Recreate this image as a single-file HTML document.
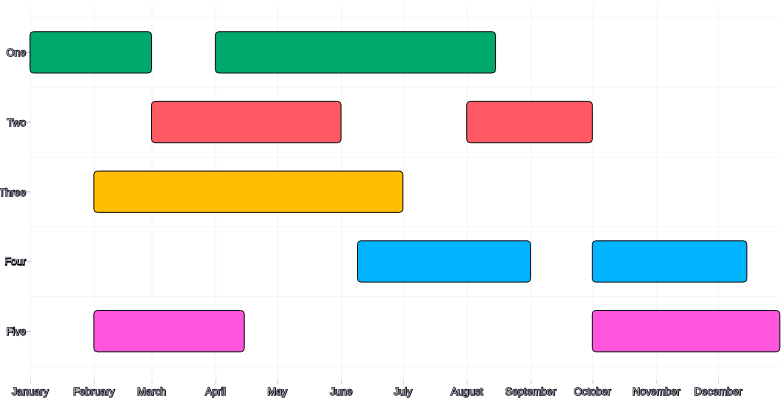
<!DOCTYPE html>
<html><head><meta charset="utf-8">
<style>
html,body{margin:0;padding:0;background:#fff;}
body{width:784px;height:400px;overflow:hidden;}
svg{display:block;will-change:transform;}
text{font-family:"Liberation Sans",Helvetica,Arial,sans-serif;font-size:10.4px;text-rendering:geometricPrecision;}
.f{fill:#a8acc0;stroke:none;}
.s{fill:#000004;stroke:#000004;stroke-width:1.25px;}
.g line{stroke:#f5f5f7;stroke-width:1;}
.g line.h{stroke:#f6f6f8;}
.t line{stroke:#d2d2dc;stroke-width:1;}
.ty line{stroke:#c6c6ce;stroke-width:1;}
.b rect{stroke:#101010;stroke-width:1;}
</style></head><body>
<svg width="784" height="400" viewBox="0 0 784 400">
<g class="g">
<line x1="30.50" y1="4" x2="30.50" y2="380"/>
<line x1="94.36" y1="4" x2="94.36" y2="380"/>
<line x1="152.03" y1="4" x2="152.03" y2="380"/>
<line x1="215.89" y1="4" x2="215.89" y2="380"/>
<line x1="277.69" y1="4" x2="277.69" y2="380"/>
<line x1="341.54" y1="4" x2="341.54" y2="380"/>
<line x1="403.34" y1="4" x2="403.34" y2="380"/>
<line x1="467.20" y1="4" x2="467.20" y2="380"/>
<line x1="531.06" y1="4" x2="531.06" y2="380"/>
<line x1="592.85" y1="4" x2="592.85" y2="380"/>
<line x1="656.71" y1="4" x2="656.71" y2="380"/>
<line x1="718.51" y1="4" x2="718.51" y2="380"/>
<line class="h" x1="30" y1="17.50" x2="780" y2="17.50"/>
<line class="h" x1="30" y1="87.26" x2="780" y2="87.26"/>
<line class="h" x1="30" y1="157.02" x2="780" y2="157.02"/>
<line class="h" x1="30" y1="226.78" x2="780" y2="226.78"/>
<line class="h" x1="30" y1="296.54" x2="780" y2="296.54"/>
<line class="h" x1="30" y1="366.30" x2="780" y2="366.30"/>
</g>
<g class="t">
<line x1="30.50" y1="380" x2="30.50" y2="383.6"/>
<line x1="94.36" y1="380" x2="94.36" y2="383.6"/>
<line x1="152.03" y1="380" x2="152.03" y2="383.6"/>
<line x1="215.89" y1="380" x2="215.89" y2="383.6"/>
<line x1="277.69" y1="380" x2="277.69" y2="383.6"/>
<line x1="341.54" y1="380" x2="341.54" y2="383.6"/>
<line x1="403.34" y1="380" x2="403.34" y2="383.6"/>
<line x1="467.20" y1="380" x2="467.20" y2="383.6"/>
<line x1="531.06" y1="380" x2="531.06" y2="383.6"/>
<line x1="592.85" y1="380" x2="592.85" y2="383.6"/>
<line x1="656.71" y1="380" x2="656.71" y2="383.6"/>
<line x1="718.51" y1="380" x2="718.51" y2="383.6"/>
</g>
<g class="ty">
<line x1="24.5" y1="52.38" x2="30.5" y2="52.38"/>
<line x1="24.5" y1="122.14" x2="30.5" y2="122.14"/>
<line x1="24.5" y1="191.90" x2="30.5" y2="191.90"/>
<line x1="24.5" y1="261.66" x2="30.5" y2="261.66"/>
<line x1="24.5" y1="331.42" x2="30.5" y2="331.42"/>
</g>
<g class="b">
<rect x="30.00" y="31.70" width="121.53" height="41.3" rx="3.5" fill="#00a86b"/>
<rect x="215.39" y="31.70" width="280.15" height="41.3" rx="3.5" fill="#00a86b"/>
<rect x="151.53" y="101.40" width="189.51" height="41.3" rx="3.5" fill="#ff5964"/>
<rect x="466.70" y="101.40" width="125.65" height="41.3" rx="3.5" fill="#ff5964"/>
<rect x="93.86" y="171.10" width="308.98" height="41.3" rx="3.5" fill="#ffbe00"/>
<rect x="357.52" y="240.80" width="173.03" height="41.3" rx="3.5" fill="#00b4ff"/>
<rect x="592.35" y="240.80" width="154.49" height="41.3" rx="3.5" fill="#00b4ff"/>
<rect x="93.86" y="310.50" width="150.37" height="41.3" rx="3.5" fill="#ff55dd"/>
<rect x="592.35" y="310.50" width="187.45" height="41.3" rx="3.5" fill="#ff55dd"/>
</g>
<g class="s" transform="translate(0.25,0.45)"><use href="#y0"/><use href="#y1"/><use href="#y2"/><use href="#y3"/><use href="#y4"/><use href="#x0"/><use href="#x1"/><use href="#x2"/><use href="#x3"/><use href="#x4"/><use href="#x5"/><use href="#x6"/><use href="#x7"/><use href="#x8"/><use href="#x9"/><use href="#x10"/><use href="#x11"/></g>
<g class="f">
<text id="y0" text-anchor="end" x="25.8" y="56.00">One</text>
<text id="y1" text-anchor="end" x="25.8" y="125.76">Two</text>
<text id="y2" text-anchor="end" x="25.8" y="195.70">Three</text>
<text id="y3" text-anchor="end" x="25.8" y="264.20">Four</text>
<text id="y4" text-anchor="end" x="25.8" y="335.04">Five</text>
</g>
<g class="f">
<text id="x0" text-anchor="middle" x="29.90" y="394.9">January</text>
<text id="x1" text-anchor="middle" x="93.76" y="394.9">February</text>
<text id="x2" text-anchor="middle" x="151.43" y="394.9">March</text>
<text id="x3" text-anchor="middle" x="215.29" y="394.9">April</text>
<text id="x4" text-anchor="middle" x="277.09" y="394.9">May</text>
<text id="x5" text-anchor="middle" x="340.94" y="394.9">June</text>
<text id="x6" text-anchor="middle" x="402.74" y="394.9">July</text>
<text id="x7" text-anchor="middle" x="466.60" y="394.9">August</text>
<text id="x8" text-anchor="middle" x="530.46" y="394.9">September</text>
<text id="x9" text-anchor="middle" x="592.25" y="394.9">October</text>
<text id="x10" text-anchor="middle" x="656.11" y="394.9">November</text>
<text id="x11" text-anchor="middle" x="717.91" y="394.9">December</text>
</g>
</svg>
</body></html>
